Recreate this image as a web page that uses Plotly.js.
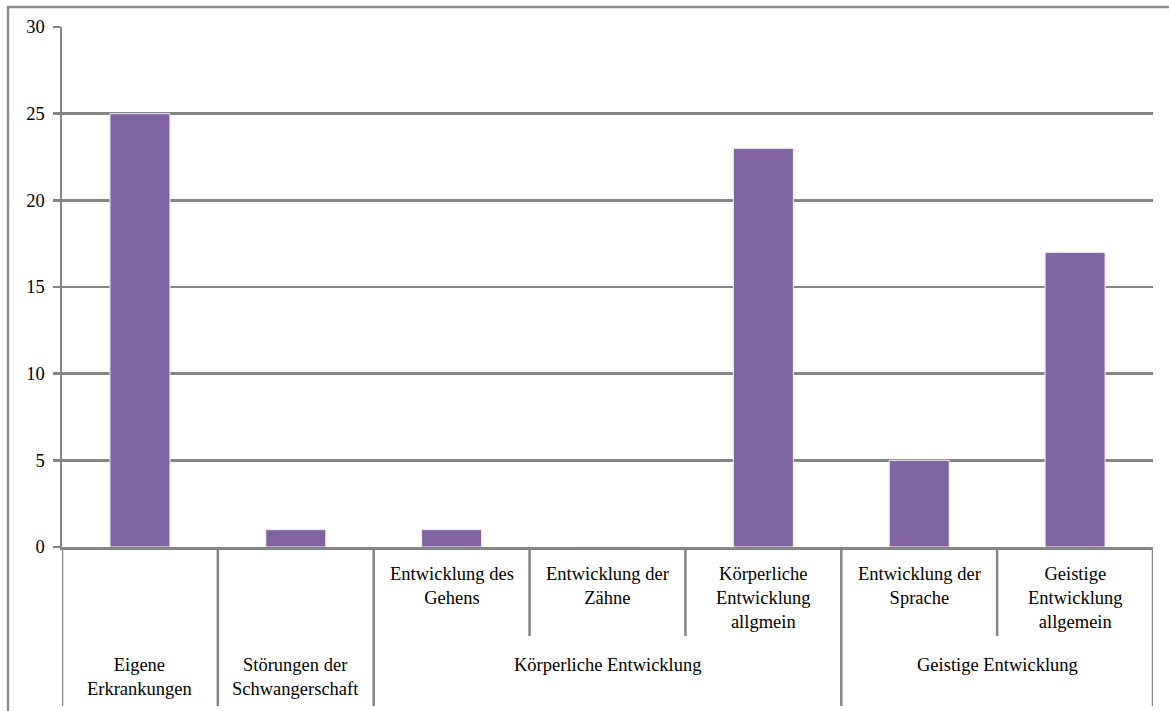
<!DOCTYPE html>
<html>
<head>
<meta charset="utf-8">
<script src="https://cdn.plot.ly/plotly-3.0.1.min.js"></script>
<style>
  html, body { margin: 0; padding: 0; background: #ffffff; }
  #chart { width: 1169px; height: 711px; }
</style>
</head>
<body>
<div id="chart"></div>
<script>
// ---- data ----
var subLabels = ['', '', 'Entwicklung des<br>Gehens', 'Entwicklung der<br>Zähne',
  'Körperliche<br>Entwicklung<br>allgmein', 'Entwicklung der<br>Sprache',
  'Geistige<br>Entwicklung<br>allgemein'];
var groupLabels = ['Eigene<br>Erkrankungen', 'Störungen der<br>Schwangerschaft',
  'Körperliche Entwicklung', 'Körperliche Entwicklung', 'Körperliche Entwicklung',
  'Geistige Entwicklung', 'Geistige Entwicklung'];
var values = [25, 1, 1, 0, 23, 5, 17];
var yTicks = [0, 5, 10, 15, 20, 25, 30];

// ---- style ----
var W = 1169, H = 711;
var M = {l: 62, r: 16, t: 27, b: 164};
var gray = '#858585';
var font = {family: '"Liberation Serif", "Times New Roman", serif', size: 18.5, color: '#000000'};
var subRowPx = 89, groupRowPx = 159;

var idx = values.map(function (v, i) { return i; });

var shapes = [];
var annotations = [];

// category dividers
for (var b = -1; b < values.length; b++) {
  var xb = b + 0.5;
  var longLine = (b < 0 || b === values.length - 1 || groupLabels[b] !== groupLabels[b + 1]);
  shapes.push({
    type: 'line', xref: 'x', yref: 'paper', ysizemode: 'pixel', yanchor: 0,
    x0: xb, x1: xb, y0: 0, y1: -(longLine ? groupRowPx : subRowPx),
    line: {color: gray, width: 2.5}, layer: 'above'
  });
}

// sub-category labels
subLabels.forEach(function (s, i) {
  if (!s) return;
  annotations.push({
    x: i, y: 0, xref: 'x', yref: 'paper', yanchor: 'top', xanchor: 'center',
    yshift: -15, text: s, showarrow: false, font: font, align: 'center'
  });
});

// group labels
var seen = {};
groupLabels.forEach(function (g, i) {
  if (seen[g]) return;
  var members = idx.filter(function (j) { return groupLabels[j] === g; });
  var mid = (members[0] + members[members.length - 1]) / 2;
  seen[g] = true;
  annotations.push({
    x: mid, y: 0, xref: 'x', yref: 'paper', yanchor: 'top', xanchor: 'center',
    yshift: -106, text: g, showarrow: false, font: font, align: 'center'
  });
});

// outer frame (top and left edges)
var plotH = H - M.t - M.b;
shapes.push({
  type: 'line', xref: 'paper', yref: 'paper', xsizemode: 'pixel', ysizemode: 'pixel',
  xanchor: 0, yanchor: 1, x0: -54, x1: -54, y0: 20, y1: -(plotH + M.b + 10),
  line: {color: '#8c8c8c', width: 2.5}
});
shapes.push({
  type: 'line', xref: 'paper', yref: 'paper', xsizemode: 'pixel', ysizemode: 'pixel',
  xanchor: 0, yanchor: 1, x0: -55, x1: W, y0: 20, y1: 20,
  line: {color: '#8c8c8c', width: 2.5}
});

var trace = {
  type: 'bar', x: idx, y: values,
  marker: {color: '#8064A2', line: {color: '#f3eef8', width: 1}},
  hoverinfo: 'y'
};

var layout = {
  width: W, height: H,
  margin: M,
  paper_bgcolor: '#ffffff', plot_bgcolor: '#ffffff',
  showlegend: false,
  bargap: 0.615,
  font: font,
  xaxis: {
    range: [-0.5, values.length - 0.5], showticklabels: false, ticks: '',
    showgrid: false, zeroline: false, showline: true, linecolor: gray, linewidth: 2.5,
    fixedrange: true
  },
  yaxis: {
    range: [0, 30], tickvals: yTicks, ticktext: yTicks.map(String),
    ticks: 'outside', ticklen: 7, tickwidth: 2.5, tickcolor: gray,
    showgrid: true, gridcolor: gray, gridwidth: 2.5,
    zeroline: false, showline: true, linecolor: gray, linewidth: 2.5,
    tickfont: font, ticklabelstandoff: 4, fixedrange: true
  },
  shapes: shapes,
  annotations: annotations
};

Plotly.newPlot('chart', [trace], layout, {displayModeBar: false, staticPlot: true});
</script>
</body>
</html>
